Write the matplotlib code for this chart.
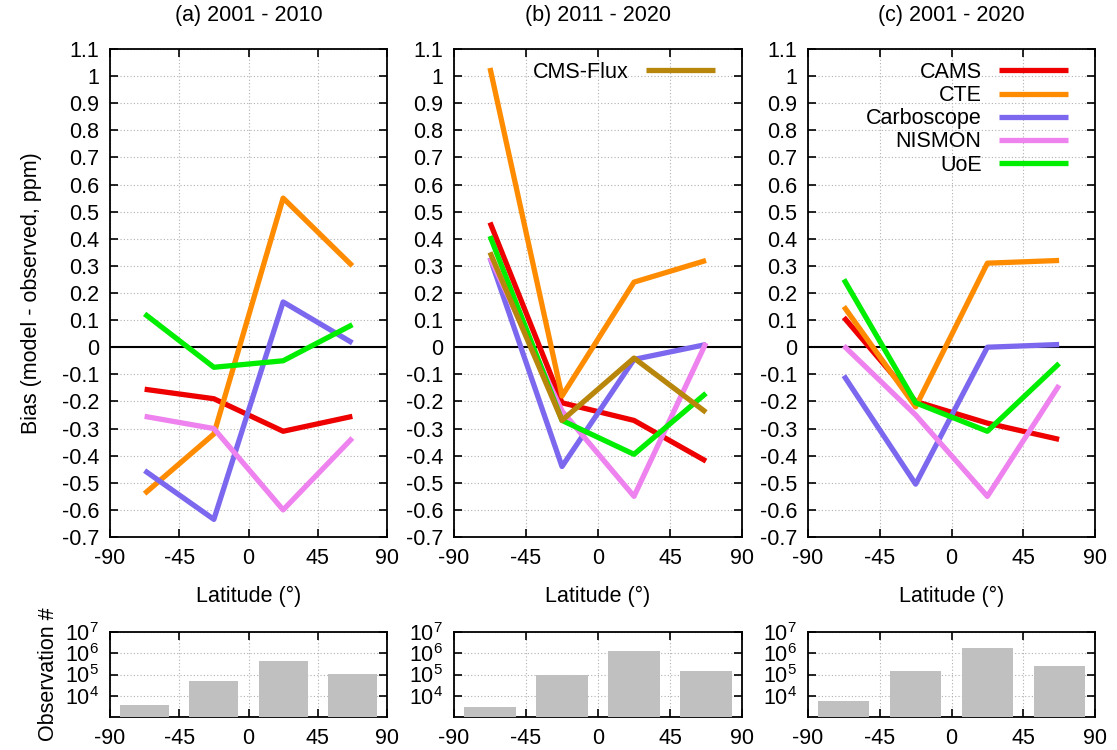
import numpy as np
import matplotlib
matplotlib.use("Agg")
import matplotlib.pyplot as plt
from matplotlib.ticker import FixedLocator, FuncFormatter, NullLocator

plt.rcParams["font.family"] = ["Liberation Sans", "DejaVu Sans"]
plt.rcParams["font.size"] = 15.5
plt.rcParams["axes.unicode_minus"] = False

# Breddegrad-bånd (sentre)
lat = [-67.5, -22.5, 22.5, 67.5]

titler = ["(a) 2001 - 2010", "(b) 2011 - 2020", "(c) 2001 - 2020"]

# Bias per modell, én liste per periode
cams = [[-0.155, -0.19, -0.31, -0.255],
        [0.46, -0.205, -0.27, -0.42],
        [0.11, -0.20, -0.28, -0.34]]
cte = [[-0.54, -0.32, 0.55, 0.30],
       [1.03, -0.18, 0.24, 0.32],
       [0.15, -0.22, 0.31, 0.32]]
carboscope = [[-0.455, -0.635, 0.167, 0.016],
              [0.33, -0.44, -0.045, 0.01],
              [-0.105, -0.505, 0.0, 0.01]]
nismon = [[-0.255, -0.30, -0.60, -0.335],
          [0.33, -0.235, -0.55, 0.016],
          [0.005, -0.25, -0.55, -0.14]]
uoe = [[0.123, -0.074, -0.05, 0.083],
       [0.41, -0.27, -0.395, -0.17],
       [0.25, -0.205, -0.31, -0.06]]
cmsflux = [0.35, -0.27, -0.04, -0.24]  # kun 2011-2020

# Antall observasjoner per bånd
antall_obs = [[2.6e3, 4.6e4, 4.4e5, 1.05e5],
              [2.0e3, 9.5e4, 1.3e6, 1.4e5],
              [4.4e3, 1.4e5, 1.8e6, 2.5e5]]

modeller = [("CAMS", cams, "#ee0000"),
            ("CTE", cte, "#ff8c00"),
            ("Carboscope", carboscope, "#7b68ee"),
            ("NISMON", nismon, "#ee82ee"),
            ("UoE", uoe, "#00ee00")]

fig = plt.figure(figsize=(11.17, 7.5), dpi=100)
W, H = 1117, 750

# Piksel-posisjoner for panelene (venstre, høyre)
kolonner = [(110, 387), (454, 742), (808, 1095)]

def boks(x0, x1, y0, y1):
    return [x0 / W, 1 - y1 / H, (x1 - x0) / W, (y1 - y0) / H]

def fmt_bias(v, pos):
    v = round(v, 1) + 0.0
    return "%g" % v

grid_stil = dict(color="#b0b0b0", linestyle=(0, (1, 2)), linewidth=0.8)

for i, (x0, x1) in enumerate(kolonner):
    ax = fig.add_axes(boks(x0, x1, 49, 537))
    for navn, verdier, farge in modeller:
        ax.plot(lat, verdier[i], color=farge, linewidth=3.8, label=navn,
                solid_capstyle="butt", zorder=3)
    if i == 1:
        ax.plot(lat, cmsflux, color="#b8860b", linewidth=3.8, label="CMS-Flux",
                solid_capstyle="butt", zorder=3)
    ax.axhline(0, color="black", linewidth=1.5, zorder=2)
    ax.set_xlim(-90, 90)
    ax.set_ylim(-0.7, 1.1)
    ax.xaxis.set_major_locator(FixedLocator([-90, -45, 0, 45, 90]))
    ax.yaxis.set_major_locator(FixedLocator(np.round(np.arange(-0.7, 1.11, 0.1), 1)))
    ax.yaxis.set_major_formatter(FuncFormatter(fmt_bias))
    ax.tick_params(direction="in", top=True, right=True, length=6, width=1.2, pad=8)
    ax.grid(True, **grid_stil)
    for s in ax.spines.values():
        s.set_linewidth(1.3)
    ax.set_title(titler[i], fontsize=15.5, pad=20)
    ax.set_xlabel("Latitude (°)", labelpad=12)
    if i == 0:
        ax.set_ylabel("Bias (model - observed, ppm)", labelpad=14)
    if i == 1:
        h, l = ax.get_legend_handles_labels()
        ax.legend([h[-1]], [l[-1]], loc="upper right", markerfirst=False,
                  frameon=False, handlelength=3.2, fontsize=15.5,
                  borderaxespad=0.2, bbox_to_anchor=(0.95, 1.0))
    if i == 2:
        h, l = ax.get_legend_handles_labels()
        ax.legend(h, l, loc="upper right", markerfirst=False, frameon=False,
                  handlelength=3.2, fontsize=15.5, labelspacing=0.1,
                  borderaxespad=0.2, bbox_to_anchor=(0.95, 1.0))

    # Stolpediagram med antall observasjoner
    bx = fig.add_axes(boks(x0, x1, 632, 717))
    bx.bar(lat, antall_obs[i], width=32, bottom=1e3, color="#c0c0c0", zorder=3)
    bx.set_yscale("log")
    bx.set_xlim(-90, 90)
    bx.set_ylim(1e3, 1e7)
    bx.xaxis.set_major_locator(FixedLocator([-90, -45, 0, 45, 90]))
    bx.yaxis.set_major_locator(FixedLocator([1e4, 1e5, 1e6, 1e7]))
    bx.yaxis.set_minor_locator(NullLocator())
    bx.tick_params(direction="in", top=True, right=True, length=6, width=1.2, pad=8)
    bx.grid(True, **grid_stil)
    for s in bx.spines.values():
        s.set_linewidth(1.3)
    if i == 0:
        bx.set_ylabel("Observation #", labelpad=4)

fig.savefig("out.png", dpi=100)
